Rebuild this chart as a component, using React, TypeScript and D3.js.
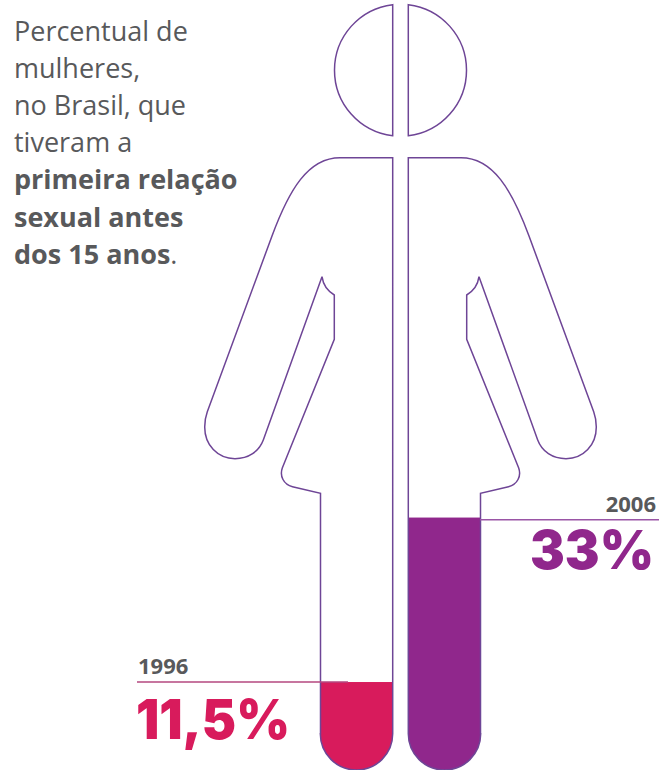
import React from "react";
import * as d3 from "d3";

const WIDTH = 659;
const HEIGHT = 770;

// Share of women whose first intercourse happened before age 15
const years = ["1996", "2006"];
const values = [11.5, 33];
const valueLabels = ["11,5%", "33%"];
const fillColors = ["#d81b5c", "#90278c"];
const ruleColors = ["#b5477f", "#9a55a6"];

const introLines = [
  { text: "Percentual de", bold: false },
  { text: "mulheres,", bold: false },
  { text: "no Brasil, que", bold: false },
  { text: "tiveram a", bold: false },
  { text: "primeira relação", bold: true },
  { text: "sexual antes", bold: true },
  { text: "dos 15 anos", bold: true },
];

const OUTLINE = "#6e4596";
const TEXT = "#58595b";
const AXIS = 400.5;
const BIG_FONT = "Inter, Roboto, sans-serif";
const COPY_FONT = "'Open Sans', sans-serif";

// The whole silhouette stands for 100%, feet at the bottom edge, head at the top.
const level = d3.scaleLinear().domain([0, 100]).range([770, 5]);

// side = -1 draws the left half of the figure, side = 1 the right half.
function headPath(side: number) {
  const x = (d: number) => AXIS + side * d;
  const p = d3.path();
  const r = 66;
  const cy = 70.2;
  const gap = 7.8;
  const rise = Math.sqrt(r * r - gap * gap);
  const a = Math.atan2(-rise, side * gap);
  const b = Math.atan2(rise, side * gap);
  p.moveTo(x(gap), cy - rise);
  p.arc(AXIS, cy, r, a, b, side < 0);
  p.closePath();
  return p.toString();
}

function bodyPath(side: number) {
  const x = (d: number) => AXIS + side * d;
  const p = d3.path();
  const legR = 36.2;
  const legMid = 44;
  const footY = 733.8;
  p.moveTo(x(7.8), 157.7);
  p.lineTo(x(60.5), 157.7);
  p.bezierCurveTo(x(92.5), 157.7, x(111.5), 190, x(128.5), 236);
  p.lineTo(x(193.2), 411.7);
  p.bezierCurveTo(x(195.5), 418, x(195.8), 422, x(195.8), 427);
  p.bezierCurveTo(x(195.8), 445, x(183), 458.7, x(165.5), 458.7);
  p.bezierCurveTo(x(152), 458.7, x(141.5), 451.5, x(137.2), 440);
  p.lineTo(x(78.5), 276.7);
  p.bezierCurveTo(x(77.5), 284, x(73), 291, x(66.2), 295);
  p.lineTo(x(66.2), 339.3);
  p.lineTo(x(118.2), 468);
  p.bezierCurveTo(x(121), 476, x(117), 484.5, x(108), 486.7);
  p.lineTo(x(80), 493.3);
  p.lineTo(x(80), footY);
  p.arc(x(legMid), footY, legR, side < 0 ? Math.PI : 0, side < 0 ? 0 : Math.PI, side < 0);
  p.lineTo(x(7.8), 157.7);
  p.closePath();
  return p.toString();
}

export default function App() {
  const sides = [-1, 1];
  return (
    <svg
      width={WIDTH}
      height={HEIGHT}
      viewBox={`0 0 ${WIDTH} ${HEIGHT}`}
      style={{ position: "absolute", left: 0, top: 0, background: "#fff", display: "block" }}
    >
      <defs>
        {sides.map((side, i) => (
          <clipPath id={`body-${i}`} key={side}>
            <path d={bodyPath(side)} />
          </clipPath>
        ))}
      </defs>

      {/* Intro copy */}
      <text fontFamily={COPY_FONT} fontSize={27} fill={TEXT}>
        {introLines.map((line, i) => (
          <tspan key={line.text} x={14} y={41 + i * 37.1} fontWeight={line.bold ? 700 : 400}>
            {line.text}
            {i === introLines.length - 1 ? <tspan fontWeight={400}>.</tspan> : null}
          </tspan>
        ))}
      </text>

      {/* Two halves of the figure, one per survey year */}
      {sides.map((side, i) => (
        <g key={side}>
          <rect
            x={side < 0 ? AXIS - 81 : AXIS + 7}
            width={74}
            y={level(values[i])}
            height={HEIGHT - level(values[i])}
            fill={fillColors[i]}
            clipPath={`url(#body-${i})`}
          />
          <path d={headPath(side)} fill="none" stroke={OUTLINE} strokeWidth={1.5} />
          <path d={bodyPath(side)} fill="none" stroke={OUTLINE} strokeWidth={1.5} />
        </g>
      ))}

      {/* 1996 callout */}
      <line x1={137} x2={348} y1={level(values[0])} y2={level(values[0])} stroke={ruleColors[0]} strokeWidth={1.5} />
      <text x={138} y={674.3} fontFamily={COPY_FONT} fontWeight={700} fontSize={22} fill={TEXT}>
        {years[0]}
      </text>
      <text
        x={136}
        y={739.3}
        fontFamily={BIG_FONT}
        fontWeight={900}
        fontSize={55}
        fill={fillColors[0]}
        textLength={154}
        lengthAdjust="spacingAndGlyphs"
      >
        {valueLabels[0]}
      </text>

      {/* 2006 callout */}
      <line x1={480} x2={659} y1={519.7} y2={519.7} stroke={ruleColors[1]} strokeWidth={1.5} />
      <text x={656} y={511.7} textAnchor="end" fontFamily={COPY_FONT} fontWeight={700} fontSize={22} fill={TEXT}>
        {years[1]}
      </text>
      <text
        x={530}
        y={569}
        fontFamily={BIG_FONT}
        fontWeight={900}
        fontSize={54}
        fill={fillColors[1]}
        textLength={124}
        lengthAdjust="spacingAndGlyphs"
      >
        {valueLabels[1]}
      </text>
    </svg>
  );
}
